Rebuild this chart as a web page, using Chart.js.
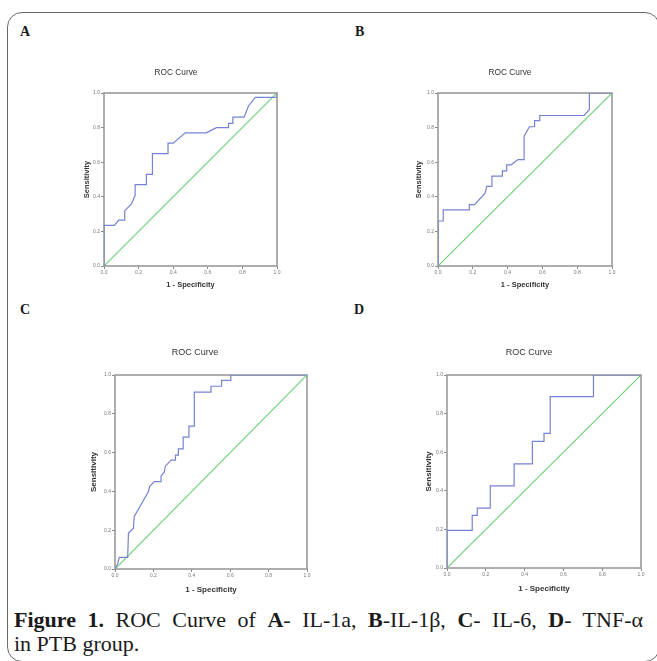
<!DOCTYPE html>
<html>
<head>
<meta charset="utf-8">
<script src="https://cdn.jsdelivr.net/npm/chart.js@4.4.0/dist/chart.umd.min.js"></script>
<style>
  html, body { margin: 0; padding: 0; background: #fff; }
  body { width: 657px; height: 661px; position: relative; overflow: hidden; }
  #frame { position: absolute; left: 7px; top: 12px; width: 653px; height: 650px;
    border: 1.5px solid #6a6a6a; border-radius: 15px; box-sizing: border-box; }
  .letter { position: absolute; font-family: "Liberation Serif", serif; font-weight: bold;
    font-size: 14px; line-height: 14px; color: #1a1a1a; }
  canvas { position: absolute; }
  #caption { position: absolute; left: 14px; top: 608px; width: 629px;
    font-family: "Liberation Serif", serif; font-size: 22px; line-height: 24px; color: #1a1a1a; }
  #caption .l1 { text-align: justify; text-align-last: justify; white-space: nowrap; }
</style>
</head>
<body>
<div id="frame"></div>
<div class="letter" style="left:20px;top:25px">A</div>
<div class="letter" style="left:355px;top:25px">B</div>
<div class="letter" style="left:20px;top:303px">C</div>
<div class="letter" style="left:354px;top:303px">D</div>
<canvas id="chartA"></canvas>
<canvas id="chartB"></canvas>
<canvas id="chartC"></canvas>
<canvas id="chartD"></canvas>
<div id="caption">
  <div class="l1"><b>Figure 1.</b> ROC Curve of <b>A</b>- IL-1a, <b>B</b>-IL-1β, <b>C</b>- IL-6, <b>D</b>- TNF-α</div>
  <div>in PTB group.</div>
</div>
<script>
// ROC points: 1 - specificity (x) and sensitivity (y)
const fprA = [0, 0, 0.06, 0.085, 0.12, 0.12, 0.16, 0.18, 0.18, 0.245, 0.245, 0.28, 0.28, 0.37, 0.37, 0.40, 0.47, 0.59, 0.65, 0.72, 0.72, 0.745, 0.745, 0.81, 0.835, 0.875, 1, 1];
const tprA = [0, 0.235, 0.235, 0.265, 0.265, 0.32, 0.36, 0.41, 0.47, 0.47, 0.53, 0.53, 0.65, 0.65, 0.71, 0.71, 0.77, 0.77, 0.80, 0.80, 0.825, 0.825, 0.86, 0.86, 0.925, 0.975, 0.975, 1];

const fprB = [0, 0, 0.03, 0.03, 0.18, 0.18, 0.21, 0.27, 0.28, 0.31, 0.31, 0.37, 0.37, 0.395, 0.395, 0.42, 0.46, 0.495, 0.495, 0.525, 0.555, 0.555, 0.585, 0.585, 0.84, 0.87, 0.87, 1];
const tprB = [0, 0.26, 0.26, 0.325, 0.325, 0.355, 0.355, 0.42, 0.46, 0.46, 0.52, 0.52, 0.55, 0.55, 0.585, 0.585, 0.615, 0.615, 0.75, 0.805, 0.805, 0.84, 0.84, 0.87, 0.87, 0.905, 1, 1];

const fprC = [0, 0.015, 0.022, 0.066, 0.07, 0.096, 0.10, 0.175, 0.18, 0.205, 0.24, 0.24, 0.257, 0.262, 0.292, 0.315, 0.315, 0.33, 0.33, 0.355, 0.355, 0.385, 0.385, 0.413, 0.413, 0.50, 0.50, 0.555, 0.555, 0.603, 0.603, 1];
const tprC = [0, 0.03, 0.06, 0.06, 0.185, 0.21, 0.27, 0.40, 0.425, 0.45, 0.45, 0.48, 0.50, 0.53, 0.561, 0.561, 0.587, 0.587, 0.619, 0.619, 0.68, 0.68, 0.736, 0.736, 0.912, 0.912, 0.942, 0.942, 0.972, 0.972, 1, 1];

const fprD = [0, 0, 0.13, 0.13, 0.156, 0.156, 0.223, 0.223, 0.346, 0.346, 0.44, 0.44, 0.50, 0.50, 0.532, 0.532, 0.755, 0.755, 1];
const tprD = [0, 0.195, 0.195, 0.273, 0.273, 0.31, 0.31, 0.426, 0.426, 0.54, 0.54, 0.656, 0.656, 0.698, 0.698, 0.888, 0.888, 1, 1];

const refX = [0, 1];
const refY = [0, 1];

const axisTicks = [0, 0.2, 0.4, 0.6, 0.8, 1.0];

// grey box round the plot area, like SPSS
const framePlugin = {
  id: 'frame',
  beforeDatasetsDraw(chart) {
    const { ctx, chartArea: a } = chart;
    ctx.save();
    ctx.strokeStyle = '#9a9a9a';
    ctx.lineWidth = 1.6;
    ctx.strokeRect(a.left, a.top, a.right - a.left, a.bottom - a.top);
    ctx.restore();
  }
};

function makePanel(id, fpr, tpr, g) {
  const pr = 8, titleBox = 34, xh = 26;
  const lc = 2 * g.titleX - g.right;
  const yw = g.left - lc;
  const tc = g.top - titleBox;
  const w = g.right + pr - lc;
  const h = g.bottom + xh - tc;
  const tPadTop = g.titleY - tc - 0.6 * g.ts;
  const tPadBottom = titleBox - tPadTop - 1.2 * g.ts;

  const canvas = document.getElementById(id);
  canvas.width = w; canvas.height = h;
  canvas.style.left = lc + 'px'; canvas.style.top = tc + 'px';
  canvas.style.width = w + 'px'; canvas.style.height = h + 'px';

  const tickFont = { family: 'Liberation Sans', size: 5 };
  const axisFont = { family: 'Liberation Sans', size: g.as, weight: 'bold' };

  return new Chart(canvas, {
    type: 'line',
    data: {
      datasets: [
        {
          data: fpr.map((x, i) => ({ x, y: tpr[i] })),
          borderColor: '#7682d2',
          borderWidth: 1.2,
          pointRadius: 0,
          tension: 0
        },
        {
          data: refX.map((x, i) => ({ x, y: refY[i] })),
          borderColor: '#6fd07a',
          borderWidth: 1.2,
          pointRadius: 0
        }
      ]
    },
    options: {
      responsive: false,
      animation: false,
      layout: { padding: { left: 0, right: pr, top: 0, bottom: 0 } },
      plugins: {
        legend: { display: false },
        tooltip: { enabled: false },
        title: {
          display: true,
          text: 'ROC Curve',
          color: '#333',
          font: { family: 'Liberation Sans', size: g.ts, weight: 'normal' },
          padding: { top: tPadTop, bottom: tPadBottom }
        }
      },
      scales: {
        x: {
          type: 'linear', min: 0, max: 1,
          afterFit: s => { s.height = xh; },
          afterBuildTicks: s => { s.ticks = axisTicks.map(v => ({ value: v })); },
          ticks: { font: tickFont, color: '#777', padding: 1, maxRotation: 0,
            callback: v => v.toFixed(1) },
          grid: { drawOnChartArea: false, tickLength: 3, color: '#888' },
          border: { display: false },
          title: { display: true, text: '1 - Specificity', color: '#333', font: axisFont,
            padding: { top: 0, bottom: g.bottom + xh - 0.6 * g.as - g.xTitleY } }
        },
        y: {
          type: 'linear', min: 0, max: 1,
          afterFit: s => { s.width = yw; },
          afterBuildTicks: s => { s.ticks = axisTicks.map(v => ({ value: v })); },
          ticks: { font: tickFont, color: '#777', padding: 1,
            callback: v => v.toFixed(1) },
          grid: { drawOnChartArea: false, tickLength: 3, color: '#888' },
          border: { display: false },
          title: { display: true, text: 'Sensitivity', color: '#333', font: axisFont,
            padding: { top: g.yTitleX - lc - 0.6 * g.as, bottom: 0 } }
        }
      }
    },
    plugins: [framePlugin]
  });
}

makePanel('chartA', fprA, tprA, { left: 104, right: 277, top: 93, bottom: 266,
  titleX: 176, titleY: 73, xTitleY: 285, yTitleX: 87, ts: 8.3, as: 7.5 });
makePanel('chartB', fprB, tprB, { left: 438, right: 612, top: 93, bottom: 266,
  titleX: 510, titleY: 73, xTitleY: 285, yTitleX: 419, ts: 8.3, as: 7.5 });
makePanel('chartC', fprC, tprC, { left: 115, right: 307, top: 375, bottom: 569,
  titleX: 195, titleY: 353, xTitleY: 590, yTitleX: 94, ts: 9, as: 8 });
makePanel('chartD', fprD, tprD, { left: 447, right: 641, top: 375, bottom: 568,
  titleX: 529, titleY: 353, xTitleY: 589, yTitleX: 429, ts: 9, as: 8 });
</script>
</body>
</html>
